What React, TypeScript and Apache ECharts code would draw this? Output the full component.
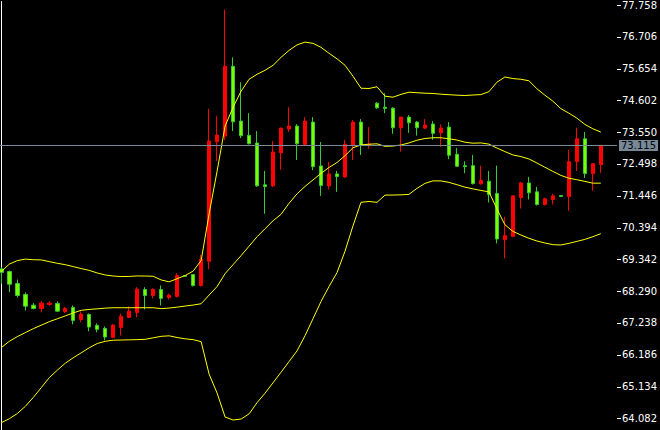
import React, { useEffect, useRef } from "react";
import * as echarts from "echarts";

// Right axis tick labels
const yTicks = [64.082, 65.134, 66.186, 67.238, 68.29, 69.342, 70.394, 71.446, 72.498, 73.55, 74.602, 75.654, 76.706, 77.758];
const lastPrice = 73.115;

// OHLC per bar
const openP = [
  69.027, 68.938, 68.542, 68.18, 67.827, 67.718, 67.85, 67.883, 67.619, 67.751,
  67.356, 67.52, 67.158, 67.059, 66.762, 67.092, 67.422, 67.586, 68.345, 68.147,
  68.345, 68.081, 68.114, 68.806, 68.839, 68.476, 69.278, 73.234, 73.422, 75.73,
  73.917, 73.445, 73.191, 71.807, 71.774, 72.871, 73.653, 73.752, 73.148, 73.884,
  72.433, 71.774, 72.169, 72.07, 73.125, 73.884, 73.109, 74.51, 74.378, 74.345,
  73.696, 74.049, 73.884, 73.686, 73.818, 73.531, 73.719, 72.819, 72.443, 72.443,
  71.84, 71.928, 71.52, 69.993, 70.102, 71.388, 71.872, 71.576, 71.157, 71.322,
  71.454, 71.421, 72.575, 73.333, 72.179, 72.476,
];
const closeP = [
  68.915, 68.519, 68.147, 67.794, 67.718, 67.893, 67.893, 67.629, 67.718, 67.323,
  67.53, 67.102, 67.026, 66.772, 67.168, 67.455, 67.629, 68.354, 68.147, 68.345,
  68.048, 68.157, 68.806, 68.783, 68.476, 69.334, 73.257, 73.455, 75.73, 73.894,
  73.432, 73.168, 71.774, 71.751, 72.895, 73.686, 73.752, 73.168, 73.917, 72.41,
  71.784, 72.169, 72.08, 73.148, 73.884, 73.115, 73.158, 74.355, 74.335, 73.696,
  74.049, 73.861, 73.696, 73.785, 73.511, 73.686, 72.786, 72.423, 72.41, 71.849,
  71.948, 71.487, 70.016, 70.125, 71.444, 71.872, 71.543, 71.157, 71.345, 71.444,
  71.421, 72.575, 73.333, 72.179, 72.509, 73.115,
];
const lowP = [
  68.532, 68.256, 68.081, 67.652, 67.685, 67.586, 67.807, 67.596, 67.563, 67.191,
  67.257, 66.96, 66.927, 66.663, 66.729, 66.828, 67.422, 67.422, 67.685, 68.048,
  67.817, 68.015, 68.081, 68.78, 68.443, 68.443, 69.014, 72.598, 73.29, 73.587,
  73.356, 73.148, 71.741, 70.85, 71.741, 72.311, 73.564, 72.631, 73.125, 72.291,
  71.444, 71.652, 71.576, 72.037, 72.631, 72.796, 73.003, 74.322, 74.18, 73.498,
  72.904, 73.531, 73.432, 73.653, 73.3, 73.069, 72.654, 72.41, 72.192, 71.817,
  71.817, 71.223, 69.871, 69.377, 70.102, 71.025, 71.322, 71.124, 71.124, 71.157,
  71.42, 70.949, 72.268, 72.037, 71.609, 72.202,
];
const highP = [
  69.08, 68.971, 68.674, 68.246, 67.893, 67.959, 67.959, 67.949, 67.761, 67.817,
  67.619, 67.553, 67.224, 67.125, 67.201, 67.553, 67.784, 68.42, 68.42, 68.387,
  68.476, 68.203, 68.882, 68.81, 68.839, 69.489, 74.322, 74.081, 77.609, 76.027,
  75.202, 74.18, 73.587, 72.268, 73.257, 73.696, 74.378, 73.818, 74.049, 74.049,
  73.224, 72.565, 72.268, 73.29, 73.95, 73.983, 73.719, 74.543, 74.84, 74.378,
  74.049, 74.115, 73.917, 73.983, 73.917, 73.808, 73.884, 73.026, 72.588, 72.796,
  72.443, 72.268, 72.443, 70.752, 71.444, 71.905, 72.07, 71.741, 71.378, 71.51,
  71.46, 72.97, 73.696, 73.554, 72.509, 73.115,
];

// Bollinger bands per bar
const upperBand = [
  68.938, 69.185, 69.301, 69.35, 69.33, 69.324, 69.268, 69.212, 69.166, 69.103,
  69.037, 68.978, 68.892, 68.826, 68.79, 68.773, 68.777, 68.793, 68.79, 68.783,
  68.661, 68.599, 68.704, 68.806, 68.955, 69.301, 70.85, 72.268, 73.752, 74.378,
  74.906, 75.301, 75.466, 75.598, 75.763, 76.027, 76.257, 76.439, 76.531, 76.488,
  76.356, 76.159, 75.977, 75.763, 75.4, 75.005, 74.995, 75.054, 74.741, 74.708,
  74.8, 74.873, 74.856, 74.84, 74.83, 74.807, 74.79, 74.774, 74.764, 74.78,
  74.794, 74.889, 75.202, 75.377, 75.324, 75.301, 75.252, 74.988, 74.774, 74.576,
  74.329, 74.18, 74.016, 73.808, 73.663, 73.554,
];
const middleBand = [
  66.422, 66.63, 66.785, 66.917, 67.049, 67.164, 67.28, 67.375, 67.471, 67.57,
  67.656, 67.685, 67.705, 67.728, 67.741, 67.741, 67.741, 67.741, 67.741, 67.741,
  67.712, 67.731, 67.761, 67.797, 67.83, 67.873, 68.163, 68.444, 68.872, 69.169,
  69.466, 69.779, 70.092, 70.356, 70.62, 70.834, 71.197, 71.51, 71.757, 71.971,
  72.186, 72.383, 72.548, 72.773, 73.036, 73.129, 73.152, 73.165, 73.082, 73.092,
  73.125, 73.195, 73.284, 73.34, 73.366, 73.366, 73.333, 73.29, 73.218, 73.185,
  73.195, 73.155, 73.026, 72.908, 72.796, 72.743, 72.664, 72.532, 72.39, 72.252,
  72.12, 72.027, 71.978, 71.922, 71.863, 71.863,
];
const lowerBand = [
  63.937, 64.069, 64.24, 64.477, 64.774, 65.097, 65.427, 65.674, 65.905, 66.086,
  66.251, 66.416, 66.558, 66.63, 66.667, 66.673, 66.68, 66.686, 66.696, 66.746,
  66.795, 66.812, 66.756, 66.713, 66.686, 66.62, 65.542, 64.916, 64.125, 64.026,
  64.059, 64.23, 64.603, 64.916, 65.262, 65.608, 65.961, 66.317, 66.818, 67.382,
  67.949, 68.444, 68.905, 69.614, 70.455, 71.23, 71.256, 71.23, 71.467, 71.47,
  71.477, 71.493, 71.691, 71.856, 71.938, 71.938, 71.889, 71.813, 71.731, 71.675,
  71.622, 71.576, 71.015, 70.488, 70.267, 70.148, 70.039, 69.95, 69.884, 69.828,
  69.818, 69.871, 69.937, 70.003, 70.092, 70.191,
];

const X_MIN = -0.1625;
const X_MAX = 77.025;

export default function App() {
  const ref = useRef<HTMLDivElement>(null);
  useEffect(() => {
    document.body.style.margin = "0";
    document.body.style.background = "#000";
    const chart = echarts.init(ref.current as HTMLDivElement, null, { renderer: "svg" });
    const candles = openP.map((o, i) => [i, o, closeP[i], lowP[i], highP[i]]);
    const band = (arr: number[]) => arr.map((v, i) => [i, v]);
    const lineSeries = (name: string, arr: number[]) => ({
      name,
      type: "line",
      data: band(arr),
      showSymbol: false,
      symbol: "none",
      silent: true,
      lineStyle: { color: "#FFFF00", width: 1 },
      itemStyle: { color: "#FFFF00" },
      z: 3,
    });
    chart.setOption({
      animation: false,
      backgroundColor: "#000000",
      grid: { left: 0, right: 42.5, top: 0, bottom: 0 },
      xAxis: {
        type: "value",
        min: X_MIN,
        max: X_MAX,
        show: false,
        splitLine: { show: false },
      },
      yAxis: {
        type: "value",
        position: "right",
        min: 63.696,
        max: 77.873,
        axisLine: { show: true, lineStyle: { color: "#FFFFFF", width: 1 } },
        axisTick: { show: false },
        axisLabel: {
          show: true,
          customValues: yTicks,
          color: "#FFFFFF",
          fontFamily: "DejaVu Sans",
          fontSize: 10,
          margin: 5,
          formatter: (v: number) => v.toFixed(3),
        },
        splitLine: { show: false },
      },
      series: [
        {
          name: "Price",
          type: "candlestick",
          data: candles,
          encode: { x: 0, y: [1, 2, 3, 4] },
          barWidth: 4,
          z: 2,
          itemStyle: {
            color: "#FF0000",
            color0: "#7CFC00",
            borderColor: "#FF0000",
            borderColor0: "#32CD32",
            borderWidth: 1,
          },
          markLine: {
            silent: true,
            symbol: ["none", "none"],
            data: [{ yAxis: lastPrice }],
            lineStyle: { color: "#778899", width: 1, type: "solid" },
            label: {
              show: true,
              position: "end",
              formatter: lastPrice.toFixed(3),
              color: "#000000",
              backgroundColor: "#778899",
              fontFamily: "DejaVu Sans",
              fontSize: 10,
              padding: [1, 2, 0, 2],
              distance: 2,
            },
          },
        },
        lineSeries("Upper", upperBand),
        lineSeries("Middle", middleBand),
        lineSeries("Lower", lowerBand),
        {
          name: "Ticks",
          type: "custom",
          silent: true,
          clip: false,
          z: 5,
          data: yTicks.map((v) => [X_MAX, v]),
          renderItem: (_params: any, api: any) => {
            const p = api.coord([api.value(0), api.value(1)]);
            const y = Math.round(p[1]) + 0.5;
            return {
              type: "line",
              shape: { x1: p[0], y1: y, x2: p[0] + 4, y2: y },
              style: { stroke: "#FFFFFF", lineWidth: 1 },
            };
          },
        },
      ],
    });
    return () => chart.dispose();
  }, []);
  return <div ref={ref} style={{ width: 660, height: 430 }} />;
}
